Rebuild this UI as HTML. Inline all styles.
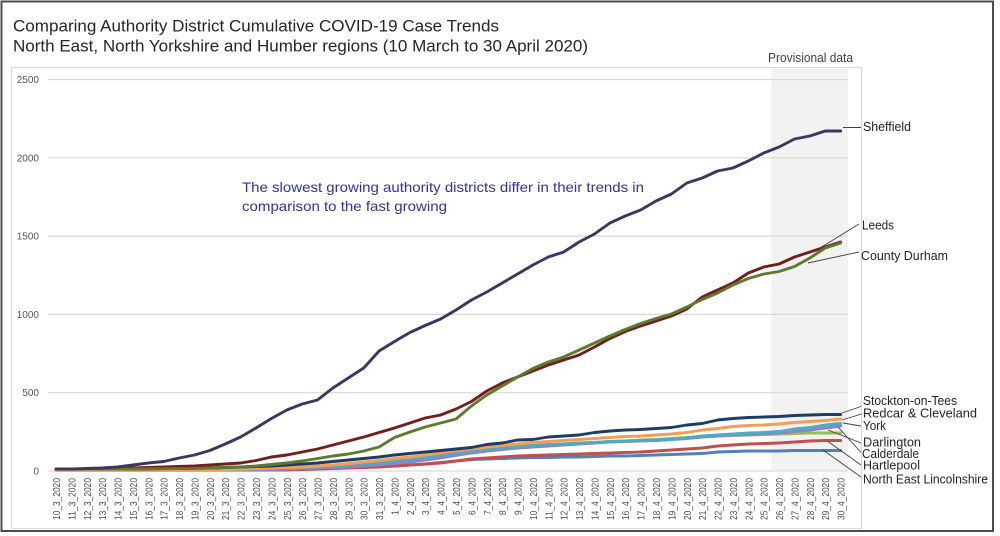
<!DOCTYPE html>
<html><head><meta charset="utf-8"><style>
html,body{margin:0;padding:0;background:#fff;}
svg{display:block;font-family:"Liberation Sans",sans-serif;}
</style></head><body>
<svg width="1000" height="536" viewBox="0 0 1000 536" xmlns="http://www.w3.org/2000/svg">
<rect x="0" y="0" width="1000" height="536" fill="#fff"/>
<rect x="1.5" y="1.5" width="991.5" height="529.5" fill="none" stroke="#4d4d4d" stroke-width="2"/>
<text x="13" y="31.5" font-size="17" fill="#262626" textLength="486" lengthAdjust="spacingAndGlyphs">Comparing Authority District Cumulative COVID-19 Case Trends</text>
<text x="13" y="51.5" font-size="17" fill="#262626" textLength="575" lengthAdjust="spacingAndGlyphs">North East, North Yorkshire and Humber regions (10 March to 30 April 2020)</text>
<rect x="11.5" y="67.5" width="850" height="461" fill="#fff" stroke="#d9d9d9" stroke-width="1"/>
<text x="768" y="62" font-size="13" fill="#404040" textLength="85" lengthAdjust="spacingAndGlyphs">Provisional data</text>
<rect x="771.5" y="68" width="76.5" height="403" fill="#f2f2f2"/>
<g stroke="#d9d9d9" stroke-width="1.2">
<line x1="48" y1="79.5" x2="848" y2="79.5"/>
<line x1="48" y1="157.8" x2="848" y2="157.8"/>
<line x1="48" y1="236.1" x2="848" y2="236.1"/>
<line x1="48" y1="314.4" x2="848" y2="314.4"/>
<line x1="48" y1="392.7" x2="848" y2="392.7"/>
<line x1="48" y1="471" x2="848" y2="471"/>
</g>
<g font-size="10" fill="#595959" text-anchor="end">
<text x="39" y="83">2500</text>
<text x="39" y="161.3">2000</text>
<text x="39" y="239.6">1500</text>
<text x="39" y="317.9">1000</text>
<text x="39" y="396.2">500</text>
<text x="39" y="474.5">0</text>
</g>
<text x="242" y="192" font-size="14" fill="#3232a8" textLength="402" lengthAdjust="spacingAndGlyphs">The slowest growing authority districts differ in their trends in</text>
<text x="242" y="211" font-size="14" fill="#3232a8" textLength="205" lengthAdjust="spacingAndGlyphs">comparison to the fast growing</text>
<g fill="none" stroke-width="2.9" stroke-linejoin="round" stroke-linecap="round">
<polyline stroke="#4f81bd" points="56,470 271.4,470 286.8,469.5 302.2,469 317.5,468.5 332.9,468 348.3,467.5 363.7,467 379.1,466.5 394.5,466 409.9,465 425.2,464 440.6,462.5 456,461 471.4,459.5 486.8,459 502.2,458.5 517.6,458 532.9,457.5 548.3,457.5 563.7,457 579.1,457 594.5,456.5 609.9,456 625.2,456 640.6,455.5 656,455 671.4,454.5 686.8,454 702.2,453.5 717.6,452 732.9,451.5 748.3,451 763.7,451 779.1,451 794.5,450.5 809.9,450.5 825.2,450.5 840.6,450.5"/>
<polyline stroke="#c0504d" points="56,470 286.8,470 302.2,469.5 317.5,469 332.9,468.5 348.3,468 363.7,467.5 379.1,467 394.5,466 409.9,465 425.2,464 440.6,463 456,461 471.4,459 486.8,458 502.2,457 517.6,456 532.9,455.5 548.3,455 563.7,454.5 579.1,454 594.5,453.5 609.9,453 625.2,452.5 640.6,452 656,451 671.4,450 686.8,449 702.2,448 717.6,446 732.9,445 748.3,444 763.7,443.5 779.1,443 794.5,442 809.9,441 825.2,440.5 840.6,440.5"/>
<polyline stroke="#9bbb59" points="56,469.5 240.6,469.5 256,469 271.4,468.5 286.8,468 302.2,467.5 317.5,466.5 332.9,465.5 348.3,464.5 363.7,463.5 379.1,462 394.5,460 409.9,458 425.2,456 440.6,454 456,452 471.4,450.5 486.8,449.5 502.2,448 517.6,446.5 532.9,445.5 548.3,445 563.7,444 579.1,443 594.5,442.5 609.9,441.5 625.2,441 640.6,440 656,439.5 671.4,438.5 686.8,437.5 702.2,436.5 717.6,436 732.9,435.5 748.3,435 763.7,434.5 779.1,434 794.5,433.5 809.9,433 825.2,433 840.6,433"/>
<polyline stroke="#9480c2" points="56,469.5 271.4,469.5 286.8,469 302.2,468.5 317.5,468 332.9,467.5 348.3,467 363.7,466 379.1,465 394.5,463.5 409.9,462 425.2,460 440.6,458 456,455.5 471.4,453 486.8,451 502.2,449.5 517.6,448 532.9,447 548.3,446 563.7,445 579.1,444 594.5,443 609.9,442 625.2,441.5 640.6,441 656,440.5 671.4,439.5 686.8,438.5 702.2,437 717.6,436 732.9,435 748.3,434.5 763.7,434 779.1,433 794.5,431.5 809.9,430 825.2,428 840.6,426"/>
<polyline stroke="#4bacc6" points="56,469.5 240.6,469.5 256,469 271.4,468.5 286.8,468 302.2,467.5 317.5,467 332.9,466 348.3,465 363.7,464 379.1,463 394.5,461 409.9,459.5 425.2,457.5 440.6,455.5 456,453 471.4,451 486.8,449.5 502.2,448 517.6,446.5 532.9,445.5 548.3,444.5 563.7,444 579.1,443 594.5,442.5 609.9,441.5 625.2,441 640.6,440.5 656,440 671.4,439.5 686.8,438 702.2,436 717.6,435 732.9,434 748.3,433 763.7,432.5 779.1,431.5 794.5,429 809.9,427.5 825.2,425 840.6,423.5"/>
<polyline stroke="#f59d56" points="56,469.5 225.2,469.5 240.6,469 256,468.5 271.4,468 286.8,467.5 302.2,467 317.5,466 332.9,465 348.3,463.5 363.7,462 379.1,460.5 394.5,458.5 409.9,457 425.2,455 440.6,453 456,450.5 471.4,449 486.8,447 502.2,445.5 517.6,444 532.9,442.5 548.3,441.5 563.7,440.5 579.1,439.5 594.5,438.5 609.9,437.5 625.2,436.5 640.6,436 656,435 671.4,434 686.8,432.5 702.2,430 717.6,428.5 732.9,426.5 748.3,425.5 763.7,425 779.1,424 794.5,422.5 809.9,421.5 825.2,420.5 840.6,419"/>
<polyline stroke="#1f3d63" points="56,469 132.9,469 148.3,468.8 163.7,468.6 179.1,468.4 194.5,468.2 209.9,468 225.2,467.5 240.6,467 256,466.5 271.4,466 286.8,465 302.2,464 317.5,463 332.9,461.5 348.3,460 363.7,458.5 379.1,457 394.5,455 409.9,453.5 425.2,452 440.6,450.5 456,449 471.4,447.5 486.8,444.5 502.2,443 517.6,440 532.9,439.5 548.3,437 563.7,436 579.1,435 594.5,432.5 609.9,431 625.2,430 640.6,429.5 656,428.5 671.4,427.5 686.8,425 702.2,423.5 717.6,420 732.9,418.5 748.3,417.5 763.7,417 779.1,416.5 794.5,415.5 809.9,415 825.2,414.5 840.6,414.5"/>
<polyline stroke="#711e1c" points="56,469 86.8,469 102.2,468.5 117.5,468.5 132.9,468 148.3,467.5 163.7,467 179.1,466.5 194.5,466 209.9,465 225.2,464 240.6,463 256,460.5 271.4,457 286.8,455 302.2,452 317.5,449 332.9,445 348.3,441 363.7,437 379.1,432.5 394.5,428 409.9,423 425.2,418 440.6,415 456,409 471.4,401.5 486.8,391 502.2,383 517.6,377 532.9,371 548.3,365 563.7,360 579.1,355 594.5,347 609.9,338.5 625.2,331.5 640.6,326 656,321 671.4,316 686.8,309 702.2,297 717.6,290 732.9,283 748.3,273 763.7,267 779.1,264 794.5,257 809.9,252 825.2,247 840.6,242"/>
<polyline stroke="#5e7a2e" points="56,469 132.9,469 148.3,468.8 163.7,468.7 179.1,468.6 194.5,468.5 209.9,468 225.2,467.5 240.6,467 256,466 271.4,464.5 286.8,463 302.2,461 317.5,458.5 332.9,456 348.3,454 363.7,451 379.1,447 394.5,437.5 409.9,432 425.2,427 440.6,423 456,419 471.4,406 486.8,395 502.2,386 517.6,377 532.9,368.5 548.3,362 563.7,357 579.1,350 594.5,343 609.9,336 625.2,329.5 640.6,323.5 656,318.5 671.4,314 686.8,307 702.2,299.5 717.6,293 732.9,285 748.3,278.5 763.7,274 779.1,271.5 794.5,266.5 809.9,258 825.2,248 840.6,243"/>
<polyline stroke="#40355e" points="56,469 71.4,469 86.8,468.5 102.2,468 117.5,467 132.9,465 148.3,463 163.7,461.5 179.1,458 194.5,455 209.9,450.5 225.2,444 240.6,437 256,428 271.4,418.5 286.8,410 302.2,404 317.5,400 332.9,388 348.3,378 363.7,368 379.1,351 394.5,341.5 409.9,332.5 425.2,325.5 440.6,319 456,310 471.4,300 486.8,292 502.2,283 517.6,274 532.9,265 548.3,257 563.7,252 579.1,242 594.5,234 609.9,223 625.2,216 640.6,210 656,201 671.4,194 686.8,183 702.2,178 717.6,171 732.9,168 748.3,161 763.7,153 779.1,147 794.5,139 809.9,136 825.2,131 840.6,131"/>
</g>
<g stroke="#404040" stroke-width="0.9">
<line x1="843" y1="127.5" x2="861" y2="127.5"/>
<line x1="820" y1="248" x2="859" y2="224"/>
<line x1="808" y1="263" x2="859" y2="252"/>
<line x1="842" y1="413" x2="861" y2="406.5"/>
<line x1="842" y1="420" x2="861.5" y2="414"/>
<line x1="843" y1="423" x2="861" y2="426"/>
<line x1="828" y1="430" x2="861" y2="443"/>
<line x1="838" y1="427" x2="861" y2="452.5"/>
<line x1="828" y1="441.5" x2="861" y2="465"/>
<line x1="823" y1="450" x2="861" y2="477"/>
</g>
<g font-size="13" fill="#262626">
<text x="863" y="131" textLength="48" lengthAdjust="spacingAndGlyphs">Sheffield</text>
<text x="862" y="229.5" textLength="32" lengthAdjust="spacingAndGlyphs">Leeds</text>
<text x="861" y="260" textLength="87" lengthAdjust="spacingAndGlyphs">County Durham</text>
<text x="863" y="405" textLength="94" lengthAdjust="spacingAndGlyphs">Stockton-on-Tees</text>
<text x="863" y="417.5" textLength="114" lengthAdjust="spacingAndGlyphs">Redcar &amp; Cleveland</text>
<text x="863" y="430" textLength="23" lengthAdjust="spacingAndGlyphs">York</text>
<text x="863" y="446.5" textLength="58" lengthAdjust="spacingAndGlyphs">Darlington</text>
<text x="862" y="458" textLength="57" lengthAdjust="spacingAndGlyphs">Calderdale</text>
<text x="863" y="469.5" textLength="57" lengthAdjust="spacingAndGlyphs">Hartlepool</text>
<text x="863" y="483.5" textLength="125" lengthAdjust="spacingAndGlyphs">North East Lincolnshire</text>
</g>
<g font-size="10" fill="#505050" text-anchor="end">
<text transform="translate(60,478) rotate(-90)" textLength="42" lengthAdjust="spacingAndGlyphs">10_3_2020</text>
<text transform="translate(75.4,478) rotate(-90)" textLength="42" lengthAdjust="spacingAndGlyphs">11_3_2020</text>
<text transform="translate(90.8,478) rotate(-90)" textLength="42" lengthAdjust="spacingAndGlyphs">12_3_2020</text>
<text transform="translate(106.2,478) rotate(-90)" textLength="42" lengthAdjust="spacingAndGlyphs">13_3_2020</text>
<text transform="translate(121.5,478) rotate(-90)" textLength="42" lengthAdjust="spacingAndGlyphs">14_3_2020</text>
<text transform="translate(136.9,478) rotate(-90)" textLength="42" lengthAdjust="spacingAndGlyphs">15_3_2020</text>
<text transform="translate(152.3,478) rotate(-90)" textLength="42" lengthAdjust="spacingAndGlyphs">16_3_2020</text>
<text transform="translate(167.7,478) rotate(-90)" textLength="42" lengthAdjust="spacingAndGlyphs">17_3_2020</text>
<text transform="translate(183.1,478) rotate(-90)" textLength="42" lengthAdjust="spacingAndGlyphs">18_3_2020</text>
<text transform="translate(198.5,478) rotate(-90)" textLength="42" lengthAdjust="spacingAndGlyphs">19_3_2020</text>
<text transform="translate(213.9,478) rotate(-90)" textLength="42" lengthAdjust="spacingAndGlyphs">20_3_2020</text>
<text transform="translate(229.2,478) rotate(-90)" textLength="42" lengthAdjust="spacingAndGlyphs">21_3_2020</text>
<text transform="translate(244.6,478) rotate(-90)" textLength="42" lengthAdjust="spacingAndGlyphs">22_3_2020</text>
<text transform="translate(260,478) rotate(-90)" textLength="42" lengthAdjust="spacingAndGlyphs">23_3_2020</text>
<text transform="translate(275.4,478) rotate(-90)" textLength="42" lengthAdjust="spacingAndGlyphs">24_3_2020</text>
<text transform="translate(290.8,478) rotate(-90)" textLength="42" lengthAdjust="spacingAndGlyphs">25_3_2020</text>
<text transform="translate(306.2,478) rotate(-90)" textLength="42" lengthAdjust="spacingAndGlyphs">26_3_2020</text>
<text transform="translate(321.5,478) rotate(-90)" textLength="42" lengthAdjust="spacingAndGlyphs">27_3_2020</text>
<text transform="translate(336.9,478) rotate(-90)" textLength="42" lengthAdjust="spacingAndGlyphs">28_3_2020</text>
<text transform="translate(352.3,478) rotate(-90)" textLength="42" lengthAdjust="spacingAndGlyphs">29_3_2020</text>
<text transform="translate(367.7,478) rotate(-90)" textLength="42" lengthAdjust="spacingAndGlyphs">30_3_2020</text>
<text transform="translate(383.1,478) rotate(-90)" textLength="42" lengthAdjust="spacingAndGlyphs">31_3_2020</text>
<text transform="translate(398.5,478) rotate(-90)" textLength="37" lengthAdjust="spacingAndGlyphs">1_4_2020</text>
<text transform="translate(413.9,478) rotate(-90)" textLength="37" lengthAdjust="spacingAndGlyphs">2_4_2020</text>
<text transform="translate(429.2,478) rotate(-90)" textLength="37" lengthAdjust="spacingAndGlyphs">3_4_2020</text>
<text transform="translate(444.6,478) rotate(-90)" textLength="37" lengthAdjust="spacingAndGlyphs">4_4_2020</text>
<text transform="translate(460,478) rotate(-90)" textLength="37" lengthAdjust="spacingAndGlyphs">5_4_2020</text>
<text transform="translate(475.4,478) rotate(-90)" textLength="37" lengthAdjust="spacingAndGlyphs">6_4_2020</text>
<text transform="translate(490.8,478) rotate(-90)" textLength="37" lengthAdjust="spacingAndGlyphs">7_4_2020</text>
<text transform="translate(506.2,478) rotate(-90)" textLength="37" lengthAdjust="spacingAndGlyphs">8_4_2020</text>
<text transform="translate(521.6,478) rotate(-90)" textLength="37" lengthAdjust="spacingAndGlyphs">9_4_2020</text>
<text transform="translate(536.9,478) rotate(-90)" textLength="42" lengthAdjust="spacingAndGlyphs">10_4_2020</text>
<text transform="translate(552.3,478) rotate(-90)" textLength="42" lengthAdjust="spacingAndGlyphs">11_4_2020</text>
<text transform="translate(567.7,478) rotate(-90)" textLength="42" lengthAdjust="spacingAndGlyphs">12_4_2020</text>
<text transform="translate(583.1,478) rotate(-90)" textLength="42" lengthAdjust="spacingAndGlyphs">13_4_2020</text>
<text transform="translate(598.5,478) rotate(-90)" textLength="42" lengthAdjust="spacingAndGlyphs">14_4_2020</text>
<text transform="translate(613.9,478) rotate(-90)" textLength="42" lengthAdjust="spacingAndGlyphs">15_4_2020</text>
<text transform="translate(629.2,478) rotate(-90)" textLength="42" lengthAdjust="spacingAndGlyphs">16_4_2020</text>
<text transform="translate(644.6,478) rotate(-90)" textLength="42" lengthAdjust="spacingAndGlyphs">17_4_2020</text>
<text transform="translate(660,478) rotate(-90)" textLength="42" lengthAdjust="spacingAndGlyphs">18_4_2020</text>
<text transform="translate(675.4,478) rotate(-90)" textLength="42" lengthAdjust="spacingAndGlyphs">19_4_2020</text>
<text transform="translate(690.8,478) rotate(-90)" textLength="42" lengthAdjust="spacingAndGlyphs">20_4_2020</text>
<text transform="translate(706.2,478) rotate(-90)" textLength="42" lengthAdjust="spacingAndGlyphs">21_4_2020</text>
<text transform="translate(721.6,478) rotate(-90)" textLength="42" lengthAdjust="spacingAndGlyphs">22_4_2020</text>
<text transform="translate(736.9,478) rotate(-90)" textLength="42" lengthAdjust="spacingAndGlyphs">23_4_2020</text>
<text transform="translate(752.3,478) rotate(-90)" textLength="42" lengthAdjust="spacingAndGlyphs">24_4_2020</text>
<text transform="translate(767.7,478) rotate(-90)" textLength="42" lengthAdjust="spacingAndGlyphs">25_4_2020</text>
<text transform="translate(783.1,478) rotate(-90)" textLength="42" lengthAdjust="spacingAndGlyphs">26_4_2020</text>
<text transform="translate(798.5,478) rotate(-90)" textLength="42" lengthAdjust="spacingAndGlyphs">27_4_2020</text>
<text transform="translate(813.9,478) rotate(-90)" textLength="42" lengthAdjust="spacingAndGlyphs">28_4_2020</text>
<text transform="translate(829.2,478) rotate(-90)" textLength="42" lengthAdjust="spacingAndGlyphs">29_4_2020</text>
<text transform="translate(844.6,478) rotate(-90)" textLength="42" lengthAdjust="spacingAndGlyphs">30_4_2020</text>
</g>
</svg>
</body></html>
